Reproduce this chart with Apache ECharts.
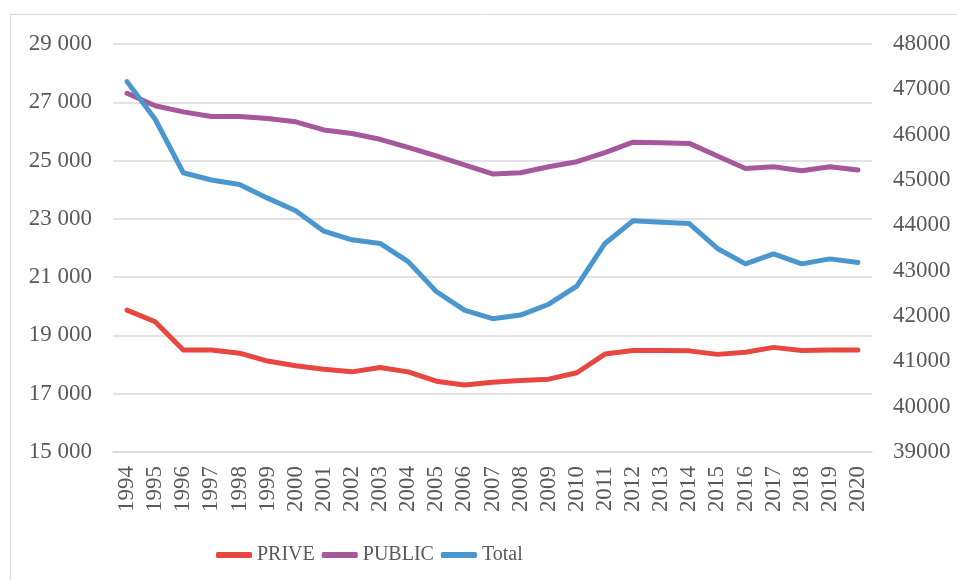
<!DOCTYPE html>
<html>
<head>
<meta charset="utf-8">
<script src="https://cdn.jsdelivr.net/npm/echarts@6/dist/echarts.min.js"></script>
<style>
html,body{margin:0;padding:0;background:#fff;}
#c{width:957px;height:580px;}
</style>
</head>
<body>
<div id="c"></div>
<script>
const years = ['1994','1995','1996','1997','1998','1999','2000','2001','2002','2003','2004','2005','2006','2007','2008','2009','2010','2011','2012','2013','2014','2015','2016','2017','2018','2019','2020'];
const prive = [19870,19470,18500,18500,18390,18120,17960,17840,17750,17900,17750,17430,17300,17390,17450,17500,17720,18360,18480,18480,18470,18350,18420,18590,18480,18500,18500];
const publicS = [27310,26880,26670,26510,26510,26440,26330,26050,25930,25730,25450,25160,24850,24540,24580,24790,24960,25270,25630,25610,25590,25160,24730,24790,24650,24790,24680];
const total = [47170,46340,45160,45000,44900,44600,44320,43870,43680,43600,43200,42540,42130,41940,42020,42260,42660,43600,44100,44070,44040,43490,43150,43370,43150,43260,43180];

const font = '"Liberation Serif", "Times New Roman", serif';
const chart = echarts.init(document.getElementById('c'));
chart.setOption({
  backgroundColor: '#fff',
  animation: false,
  graphic: [{
    type: 'rect', silent: true, z: -1,
    shape: {x: 10.5, y: 14.5, width: 980, height: 600},
    style: {fill: 'none', stroke: '#D9D9D9', lineWidth: 1}
  }],
  grid: {left: 113, right: 85, top: 44, bottom: 128},
  legend: {
    bottom: 10, left: 211,
    icon: 'roundRect', itemWidth: 36, itemHeight: 6, itemGap: 7,
    textStyle: {fontFamily: font, fontSize: 20, color: '#595959'},
    data: ['PRIVE','PUBLIC','Total']
  },
  xAxis: {
    type: 'category', data: years, boundaryGap: true,
    axisLine: {show: true, lineStyle: {color: '#D9D9D9', width: 1.5}},
    axisTick: {show: false},
    axisLabel: {rotate: 90, interval: 0, margin: 14, fontFamily: font, fontSize: 23, color: '#595959'}
  },
  yAxis: [{
    type: 'value', min: 15000, max: 29000, interval: 2000, position: 'left',
    axisLine: {show: false}, axisTick: {show: false},
    splitLine: {lineStyle: {color: '#D9D9D9', width: 1.5}},
    axisLabel: {margin: 21, fontFamily: font, fontSize: 23, color: '#595959',
      formatter: v => String(v).replace(/\B(?=(\d{3})+(?!\d))/g, ' ')}
  }, {
    type: 'value', min: 39000, max: 48000, interval: 1000, position: 'right',
    axisLine: {show: false}, axisTick: {show: false}, splitLine: {show: false},
    axisLabel: {margin: 21, fontFamily: font, fontSize: 23, color: '#595959',
      formatter: v => String(v)}
  }],
  series: [
    {name: 'PRIVE', type: 'line', yAxisIndex: 0, data: prive, symbol: 'none', smooth: false,
      lineStyle: {width: 5, color: '#E84640', cap: 'round', join: 'round'}, itemStyle: {color: '#E84640'}},
    {name: 'PUBLIC', type: 'line', yAxisIndex: 0, data: publicS, symbol: 'none',
      lineStyle: {width: 5, color: '#A5589B', cap: 'round', join: 'round'}, itemStyle: {color: '#A5589B'}},
    {name: 'Total', type: 'line', yAxisIndex: 1, data: total, symbol: 'none',
      lineStyle: {width: 5, color: '#4A97CF', cap: 'round', join: 'round'}, itemStyle: {color: '#4A97CF'}}
  ]
});
</script>
</body>
</html>
